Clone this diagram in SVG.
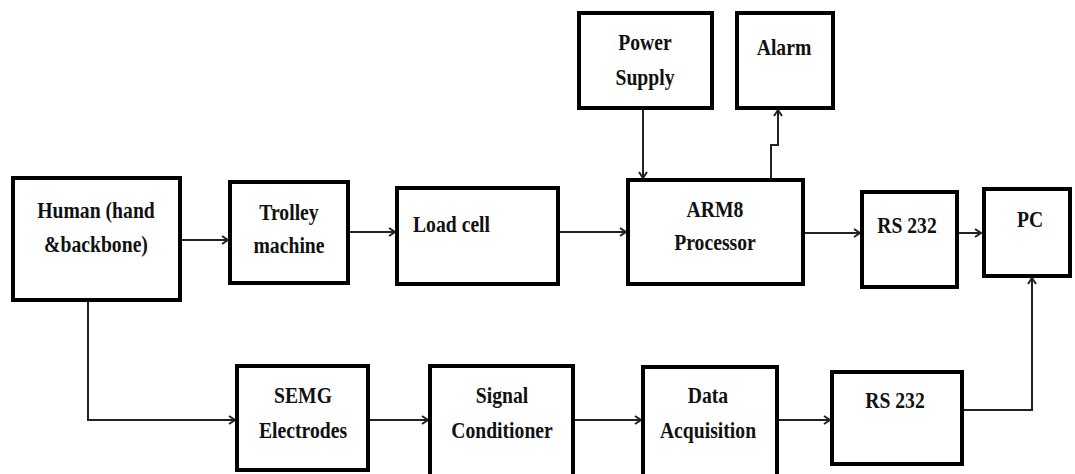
<svg xmlns="http://www.w3.org/2000/svg" width="1075" height="474" viewBox="0 0 1075 474">
<style>
.box{fill:#fff;stroke:#000;stroke-width:4}
.t{font-family:'Liberation Serif','DejaVu Serif',serif;font-weight:bold;font-size:24px;fill:#111}
.c{fill:none;stroke:#222;stroke-width:2}
</style>
<defs>
<marker id="ah" markerWidth="10" markerHeight="10" refX="8" refY="5" orient="auto" markerUnits="userSpaceOnUse">
<path d="M2,1 L8,5 L2,9" fill="none" stroke="#222" stroke-width="2"/>
</marker>
</defs>
<g id="connectors">
<path class="c" d="M180,240 L228,240" marker-end="url(#ah)"/>
<path class="c" d="M348,232 L395,232" marker-end="url(#ah)"/>
<path class="c" d="M558,232 L626,232" marker-end="url(#ah)"/>
<path class="c" d="M643,108 L643,178" marker-end="url(#ah)"/>
<path class="c" d="M771,180 L771,145 L778,145 L778,110" marker-end="url(#ah)"/>
<path class="c" d="M803,233 L860,233" marker-end="url(#ah)"/>
<path class="c" d="M957,233 L981,233" marker-end="url(#ah)"/>
<path class="c" d="M88,300 L88,420 L235,420" marker-end="url(#ah)"/>
<path class="c" d="M368,420 L428,420" marker-end="url(#ah)"/>
<path class="c" d="M573,420 L641,420" marker-end="url(#ah)"/>
<path class="c" d="M777,420 L830,420" marker-end="url(#ah)"/>
<path class="c" d="M962,410 L1032,410 L1032,278" marker-end="url(#ah)"/>
</g>
<g id="human"><rect class="box" x="13" y="178" width="167" height="122"/>
<text class="t" text-anchor="middle" transform="translate(96,218) scale(0.82,1)">Human (hand</text>
<text class="t" text-anchor="middle" transform="translate(96,252) scale(0.82,1)">&amp;backbone)</text></g>
<g id="trolley"><rect class="box" x="230" y="182" width="118" height="101"/>
<text class="t" text-anchor="middle" transform="translate(289,220) scale(0.82,1)">Trolley</text>
<text class="t" text-anchor="middle" transform="translate(289,253) scale(0.82,1)">machine</text></g>
<g id="loadcell"><rect class="box" x="397" y="188" width="161" height="96"/>
<text class="t" transform="translate(413,232) scale(0.82,1)">Load cell</text></g>
<g id="arm8"><rect class="box" x="628" y="180" width="175" height="104"/>
<text class="t" text-anchor="middle" transform="translate(715,217) scale(0.82,1)">ARM8</text>
<text class="t" text-anchor="middle" transform="translate(715,250) scale(0.82,1)">Processor</text></g>
<g id="power"><rect class="box" x="579" y="13" width="133" height="95"/>
<text class="t" text-anchor="middle" transform="translate(645,50) scale(0.82,1)">Power</text>
<text class="t" text-anchor="middle" transform="translate(645,85) scale(0.82,1)">Supply</text></g>
<g id="alarm"><rect class="box" x="737" y="13" width="96" height="95"/>
<text class="t" text-anchor="middle" transform="translate(784,55) scale(0.82,1)">Alarm</text></g>
<g id="rs232a"><rect class="box" x="862" y="192" width="95" height="95"/>
<text class="t" text-anchor="middle" transform="translate(907,233) scale(0.82,1)">RS 232</text></g>
<g id="pc"><rect class="box" x="984" y="189" width="86" height="87"/>
<text class="t" text-anchor="middle" transform="translate(1030,227) scale(0.82,1)">PC</text></g>
<g id="semg"><rect class="box" x="237" y="366" width="131" height="104"/>
<text class="t" text-anchor="middle" transform="translate(303,403) scale(0.82,1)">SEMG</text>
<text class="t" text-anchor="middle" transform="translate(303,438) scale(0.82,1)">Electrodes</text></g>
<g id="signal"><rect class="box" x="430" y="366" width="143" height="112"/>
<text class="t" text-anchor="middle" transform="translate(502,403) scale(0.82,1)">Signal</text>
<text class="t" text-anchor="middle" transform="translate(502,438) scale(0.82,1)">Conditioner</text></g>
<g id="daq"><rect class="box" x="643" y="367" width="134" height="111"/>
<text class="t" text-anchor="middle" transform="translate(708,403) scale(0.82,1)">Data</text>
<text class="t" text-anchor="middle" transform="translate(708,438) scale(0.82,1)">Acquisition</text></g>
<g id="rs232b"><rect class="box" x="832" y="372" width="130" height="92"/>
<text class="t" text-anchor="middle" transform="translate(895,408) scale(0.82,1)">RS 232</text></g>
</svg>
